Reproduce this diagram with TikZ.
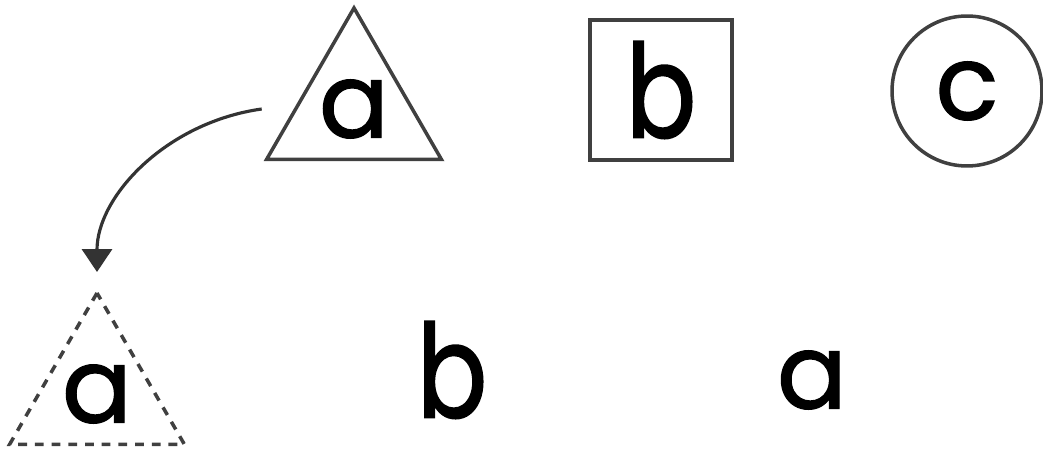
\documentclass[tikz,border=0pt]{standalone}
\usepackage{fontspec}
\setmainfont{Poppins}[FakeBold=1.3]
\newfontfamily\tallfont{Poppins}[FakeBold=1.3, FakeStretch=0.8]
\usetikzlibrary{shapes.geometric,arrows.meta}

\tikzset{
    letter/.style={font=\fontsize{59}{59}\selectfont, inner sep=0pt, outer sep=0pt},
    tall letter/.style={font=\tallfont\fontsize{74}{74}\selectfont, inner sep=0pt, outer sep=0pt},
    frame/.style={draw=black!75, line width=2pt},
    tri/.style={regular polygon, regular polygon sides=3, minimum size=4.04cm},
}

\begin{document}
\begin{tikzpicture}[x=0.02cm, y=-0.02cm]
    \useasboundingbox (0, 0) rectangle (1043, 455);
    % top row
    \node[letter, tri, frame] (ta) at (354, 109) {a};
    \node[tall letter, frame, minimum width=2.84cm, minimum height=2.8cm] (tb) at (661, 90) {b};
    \node[letter, circle, frame, minimum size=3cm] (tc) at (967, 91) {c};
    % bottom row
    \node[letter, tri, frame, dash pattern=on 5pt off 4.5pt] (ba) at (97, 394) {a};
    \node[tall letter] (bb) at (452, 370) {b};
    \node[letter] (bc) at (812, 380) {a};
    % copy of the triangle
    \draw[black!80, line width=1.8pt, -{Triangle[width=17pt, length=13pt]}, shorten >=0.42cm]
        ([xshift=-0.68cm]ta.west) to[out=188, in=90] (ba.north);
\end{tikzpicture}
\end{document}
